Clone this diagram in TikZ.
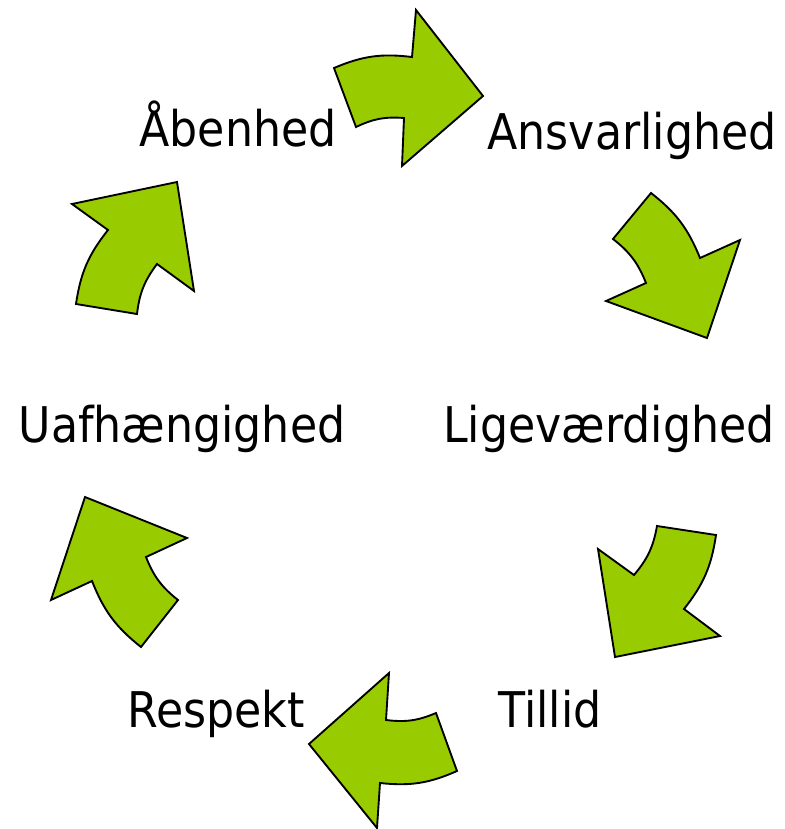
\documentclass[tikz,border=0pt]{standalone}
\usepackage{fontspec}
\setmainfont{DejaVu Sans}[FakeStretch=0.9]
\usepackage{tikz}
\usetikzlibrary{positioning}
\definecolor{leafgreen}{RGB}{153,204,0}

\begin{document}
\begin{tikzpicture}[x=0.03cm,y=0.03cm,line join=miter,
    word node/.style={anchor=base,inner sep=0pt,font=\fontsize{42}{50}\selectfont},
    turn arrow/.style={draw=black,fill=leafgreen,line width=1.6pt}]
   \useasboundingbox (0,0) rectangle (785,-829);
   \begin{scope}
     \node[word node] (aaben) at (238,-146) {Åbenhed};
     \node[word node] (ansvar) at (632,-149) {Ansvarlighed};
     \node[word node] (lige) at (609,-442) {Ligeværdighed};
     \node[word node] (uafh) at (182,-442) {Uafhængighed};
     \node[word node] (tillid) at (550,-727) {Tillid};
     \node[word node] (resp) at (216,-727) {Respekt};

     % top
     \draw[turn arrow] (334,-68) to[bend left=15] (412,-57) -- (416,-10) -- (483,-96)
        -- (402,-166) -- (404,-118) to[bend right=15] (356,-127) -- cycle;
     % right, upper
     \draw[turn arrow] (651,-193) to[bend left=15] (700,-258) -- (740,-240) -- (707,-338)
        -- (606,-301) -- (646,-283) to[bend right=15] (613,-239) -- cycle;
     % right, lower
     \draw[turn arrow] (716,-535) to[bend left=15] (684,-609) -- (720,-636) -- (615,-657)
        -- (598,-549) -- (634,-575) to[bend right=15] (657,-526) -- cycle;
     % bottom
     \draw[turn arrow] (457,-771) to[bend left=15] (380,-783) -- (377,-828) -- (309,-744)
        -- (389,-673) -- (386,-720) to[bend right=15] (436,-713) -- cycle;
     % left, lower
     \draw[turn arrow] (141,-647) to[bend left=15] (92,-581) -- (51,-600) -- (85,-497)
        -- (187,-538) -- (146,-557) to[bend right=15] (178,-600) -- cycle;
     % left, upper
     \draw[turn arrow] (76,-304) to[bend left=15] (108,-230) -- (72,-204) -- (177,-182)
        -- (194,-291) -- (157,-264) to[bend right=15] (137,-314) -- cycle;
   \end{scope}
\end{tikzpicture}
\end{document}
